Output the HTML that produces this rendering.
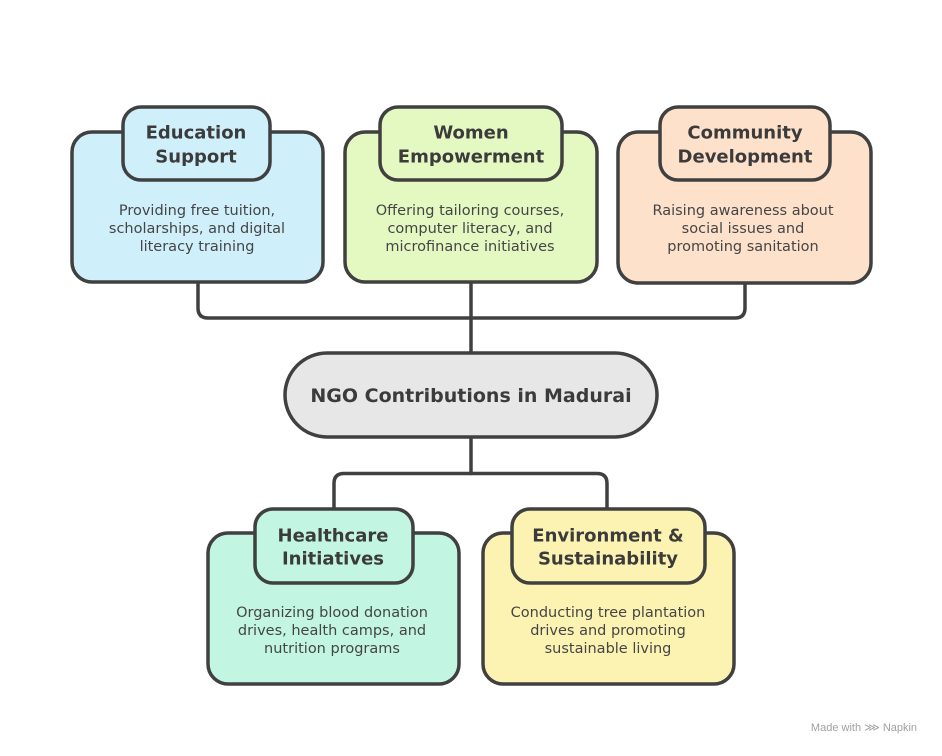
<!DOCTYPE html>
<html><head><meta charset="utf-8"><style>
html,body{margin:0;padding:0;background:#fff;}
svg{display:block;}
.t{font-family:"DejaVu Sans","Liberation Sans",sans-serif;font-weight:bold;font-size:18px;fill:#3b3b3b;text-anchor:middle;}
.b{font-family:"DejaVu Sans","Liberation Sans",sans-serif;font-size:14.5px;fill:#454545;text-anchor:middle;}
</style></head><body>
<svg width="942" height="756" viewBox="0 0 942 756" xmlns="http://www.w3.org/2000/svg">
<g fill="none" stroke="#404040" stroke-width="3.5" stroke-linecap="round" stroke-linejoin="round">
<path d="M198 282 V308 Q198 318 208 318 H735 Q745 318 745 308 V283"/>
<path d="M471 282 V353"/>
<path d="M471 437 V473.5"/>
<path d="M334 509 V483.5 Q334 473.5 344 473.5 H597 Q607 473.5 607 483.5 V509"/>
</g>
<g stroke="#404040" stroke-width="3.5">
<rect x="72" y="132" width="251" height="150" rx="20" fill="#cff0fb"/>
<rect x="123" y="107" width="147" height="73" rx="18" fill="#cff0fb"/>
<rect x="345" y="132" width="252" height="150" rx="20" fill="#e4f8c2"/>
<rect x="380" y="107" width="182" height="73" rx="18" fill="#e4f8c2"/>
<rect x="618" y="132" width="253" height="151" rx="20" fill="#fde1cb"/>
<rect x="660" y="107" width="170" height="73" rx="18" fill="#fde1cb"/>
<rect x="285" y="353" width="372" height="84" rx="42" fill="#e7e7e7"/>
<rect x="208" y="533" width="251" height="151" rx="20" fill="#c2f5e2"/>
<rect x="255" y="509" width="158" height="74" rx="18" fill="#c2f5e2"/>
<rect x="483" y="533" width="251" height="151" rx="20" fill="#fcf3b3"/>
<rect x="512" y="509" width="193" height="74" rx="18" fill="#fcf3b3"/>
</g>
<g dominant-baseline="central">
<text class="t" x="196" y="133">Education</text>
<text class="t" x="196" y="157">Support</text>
<text class="b" x="197" y="211">Providing free tuition,</text>
<text class="b" x="197" y="229">scholarships, and digital</text>
<text class="b" x="197" y="247">literacy training</text>

<text class="t" x="471" y="133">Women</text>
<text class="t" x="471" y="157">Empowerment</text>
<text class="b" x="470" y="211">Offering tailoring courses,</text>
<text class="b" x="470" y="229">computer literacy, and</text>
<text class="b" x="470" y="247">microfinance initiatives</text>

<text class="t" x="745" y="133">Community</text>
<text class="t" x="745" y="157">Development</text>
<text class="b" x="743" y="211">Raising awareness about</text>
<text class="b" x="743" y="229">social issues and</text>
<text class="b" x="743" y="247">promoting sanitation</text>

<text class="t" x="471" y="396" style="font-size:19px">NGO Contributions in Madurai</text>

<text class="t" x="333" y="536">Healthcare</text>
<text class="t" x="333" y="559">Initiatives</text>
<text class="b" x="332" y="613">Organizing blood donation</text>
<text class="b" x="332" y="631">drives, health camps, and</text>
<text class="b" x="332" y="649">nutrition programs</text>

<text class="t" x="608" y="536">Environment &amp;</text>
<text class="t" x="608" y="559">Sustainability</text>
<text class="b" x="608" y="613">Conducting tree plantation</text>
<text class="b" x="608" y="631">drives and promoting</text>
<text class="b" x="608" y="649">sustainable living</text>

<text x="864" y="728" style="font-family:'Liberation Sans',sans-serif;font-size:11px;fill:#a0a0a0;text-anchor:middle">Made with ⋙ Napkin</text>
</g>
</svg>
</body></html>
